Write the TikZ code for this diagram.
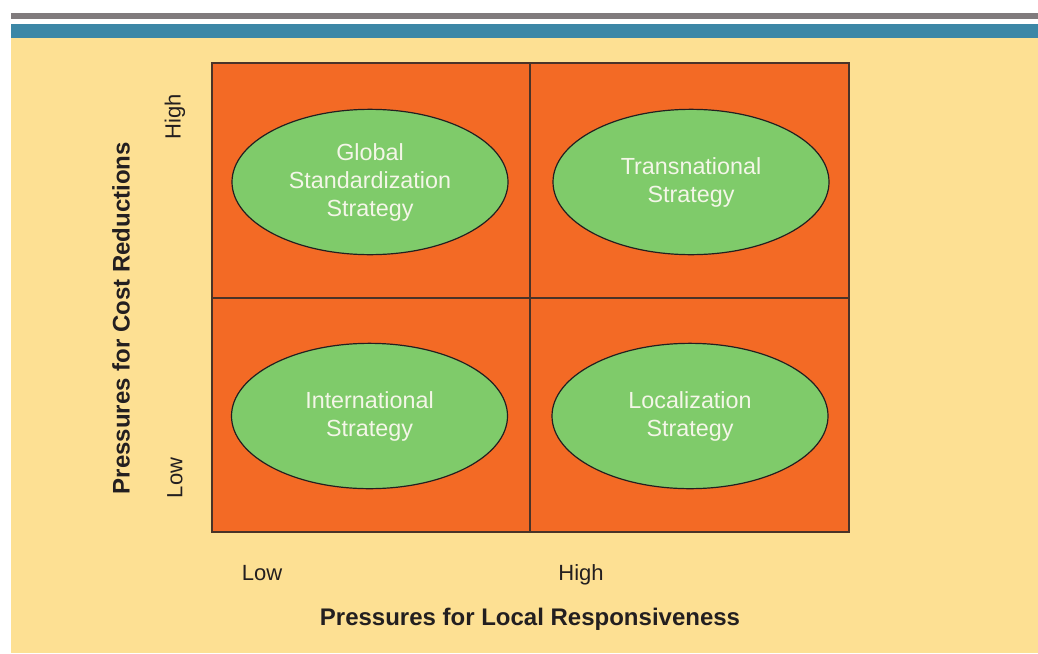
\documentclass[tikz,border=0pt]{standalone}
\usepackage{fontspec}
\setmainfont{Liberation Sans}
\usetikzlibrary{shapes.geometric}
\definecolor{bgyellow}{HTML}{FDE093}
\definecolor{topblue}{HTML}{3C87A6}
\definecolor{topgray}{HTML}{807B7D}
\definecolor{cellorange}{HTML}{F36A25}
\definecolor{ovalgreen}{HTML}{7FCB6A}
\definecolor{ovaltext}{HTML}{F4F6E8}
\definecolor{gridline}{HTML}{4A3328}
\definecolor{labeltext}{HTML}{231F20}
\begin{document}
\begin{tikzpicture}[x=0.75pt,y=-0.75pt,
  oval/.style={ellipse,draw=labeltext,line width=0.9pt,fill=ovalgreen,
    minimum width=207pt,minimum height=109pt,inner sep=0pt,
    text=ovaltext,align=center,font=\fontsize{17.5}{21}\selectfont},
  ticklabel/.style={text=labeltext,font=\fontsize{16.5}{19}\selectfont,inner sep=0pt},
  axislabel/.style={text=labeltext,font=\bfseries\fontsize{18}{21}\selectfont,inner sep=0pt}]
\useasboundingbox (0,0) rectangle (1038,653);
\fill[white] (0,0) rectangle (1038,653);
\fill[topgray] (11,12.5) rectangle (1038,18.5);
\fill[topblue] (11,24) rectangle (1038,38);
\fill[bgyellow] (11,38) rectangle (1038,653);
% grid
\fill[cellorange] (212,63) rectangle (849,532);
\draw[gridline,line width=1pt] (212,63) rectangle (849,532);
\draw[gridline,line width=1pt] (530,63) -- (530,532);
\draw[gridline,line width=1pt] (212,298) -- (849,298);
% ovals
\node[oval] (gs) at (370,182) {Global\\Standardization\\Strategy};
\node[oval] (tn) at (691,182) {Transnational\\Strategy};
\node[oval] (in) at (369.5,416) {International\\Strategy};
\node[oval] (lo) at (690,416) {Localization\\Strategy};
% axis ticks
\node[ticklabel,rotate=90] (yhigh) at (175,117) {High};
\node[ticklabel,rotate=90] (ylow) at (175,478) {Low};
\node[ticklabel,anchor=base] (xlow) at (262,580) {Low};
\node[ticklabel,anchor=base] (xhigh) at (581,580) {High};
% axis titles
\node[axislabel,rotate=90] (ytitle) at (121,318) {Pressures for Cost Reductions};
\node[axislabel] (xtitle) at (530,619) {Pressures for Local Responsiveness};
\end{tikzpicture}
\end{document}
